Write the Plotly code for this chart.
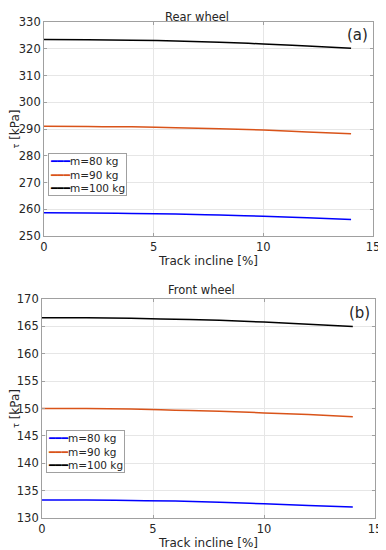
import plotly.graph_objects as go

incline = [0, 2, 4, 6, 8, 10, 12, 14]
series_names = ["m=80 kg", "m=90 kg", "m=100 kg"]
colors = ["#0000ff", "#d95319", "#000000"]

rear_80 = [258.7, 258.6, 258.4, 258.2, 257.8, 257.4, 256.8, 256.2]
rear_90 = [291.0, 290.9, 290.8, 290.5, 290.1, 289.6, 288.9, 288.2]
rear_100 = [323.5, 323.4, 323.2, 322.9, 322.4, 321.8, 321.0, 320.2]

front_80 = [133.3, 133.3, 133.2, 133.1, 132.9, 132.6, 132.3, 132.0]
front_90 = [150.0, 150.0, 149.9, 149.7, 149.5, 149.2, 148.9, 148.5]
front_100 = [166.6, 166.6, 166.5, 166.3, 166.1, 165.8, 165.4, 165.0]

x_ticks = [0, 5, 10, 15]
rear_ticks = [250, 260, 270, 280, 290, 300, 310, 320, 330]
front_ticks = [130, 135, 140, 145, 150, 155, 160, 165, 170]

FONT = "DejaVu Sans"
fig = go.Figure()

for name, c, ys in zip(series_names, colors, [rear_80, rear_90, rear_100]):
    fig.add_trace(go.Scatter(x=incline, y=ys, mode="lines", name=name, showlegend=False,
                             line=dict(color=c, width=1.5, shape="spline"),
                             xaxis="x", yaxis="y"))
for name, c, ys in zip(series_names, colors, [front_80, front_90, front_100]):
    fig.add_trace(go.Scatter(x=incline, y=ys, mode="lines", name=name, showlegend=False,
                             line=dict(color=c, width=1.5, shape="spline"),
                             xaxis="x2", yaxis="y2"))


def axis_common():
    return dict(showgrid=True, gridcolor="#e6e6e6", gridwidth=1,
                showline=True, linecolor="#a0a0a0", linewidth=1, mirror="ticks",
                ticks="inside", ticklen=3, tickcolor="#a0a0a0", automargin=False,
                zeroline=False, tickfont=dict(family=FONT, size=11.5, color="#262626"))


ytitle = "<span style='font-size:8px'>τ</span> [kPa]"


def legend_box(x, y):
    text = "<br>".join(
        f"<span style='color:{c}'>━━━</span>{n}" for n, c in zip(series_names, colors)
    )
    return dict(x=x, y=y, xref="paper", yref="paper", xanchor="left", yanchor="top",
                showarrow=False, align="left", text=text,
                bgcolor="white", bordercolor="#a0a0a0", borderwidth=1, borderpad=1,
                font=dict(family=FONT, size=10.5, color="#262626"))


fig.update_layout(
    width=386, height=550,
    margin=dict(l=0, r=0, t=0, b=0, autoexpand=False),
    paper_bgcolor="white", plot_bgcolor="white",
    font=dict(family=FONT, color="#262626"),
    xaxis=dict(domain=[0.0933, 0.9456], anchor="y", range=[0, 15], tickvals=x_ticks,
               title=dict(text="Track incline [%]", font=dict(family=FONT, size=12), standoff=2),
               **axis_common()),
    yaxis=dict(domain=[0.5855, 0.9745], anchor="x", range=[250, 330], tickvals=rear_ticks,
               title=dict(text=ytitle, font=dict(family=FONT, size=12), standoff=0),
               **axis_common()),
    xaxis2=dict(domain=[0.0881, 0.9508], anchor="y2", range=[0, 15], tickvals=x_ticks,
                title=dict(text="Track incline [%]", font=dict(family=FONT, size=12), standoff=2),
                **axis_common()),
    yaxis2=dict(domain=[0.0727, 0.4709], anchor="x2", range=[130, 170], tickvals=front_ticks,
                title=dict(text=ytitle, font=dict(family=FONT, size=12), standoff=0),
                **axis_common()),
    annotations=[
        legend_box(0.1036, 0.7364),
        legend_box(0.0984, 0.2327),
        dict(text="Rear wheel", x=0.4896, y=1.0, xref="paper", yref="paper",
             yanchor="top", showarrow=False,
             font=dict(family=FONT, size=11.5, color="#262626")),
        dict(text="Front wheel", x=0.5, y=1 - 282 / 550, xref="paper", yref="paper",
             yanchor="middle", showarrow=False,
             font=dict(family=FONT, size=11.5, color="#262626")),
        dict(text="(a)", x=14.3, y=325.1, xref="x", yref="y", showarrow=False,
             font=dict(family=FONT, size=15, color="#262626")),
        dict(text="(b)", x=14.3, y=167.4, xref="x2", yref="y2", showarrow=False,
             font=dict(family=FONT, size=15, color="#262626")),
    ],
)

fig.write_html("out.html")
